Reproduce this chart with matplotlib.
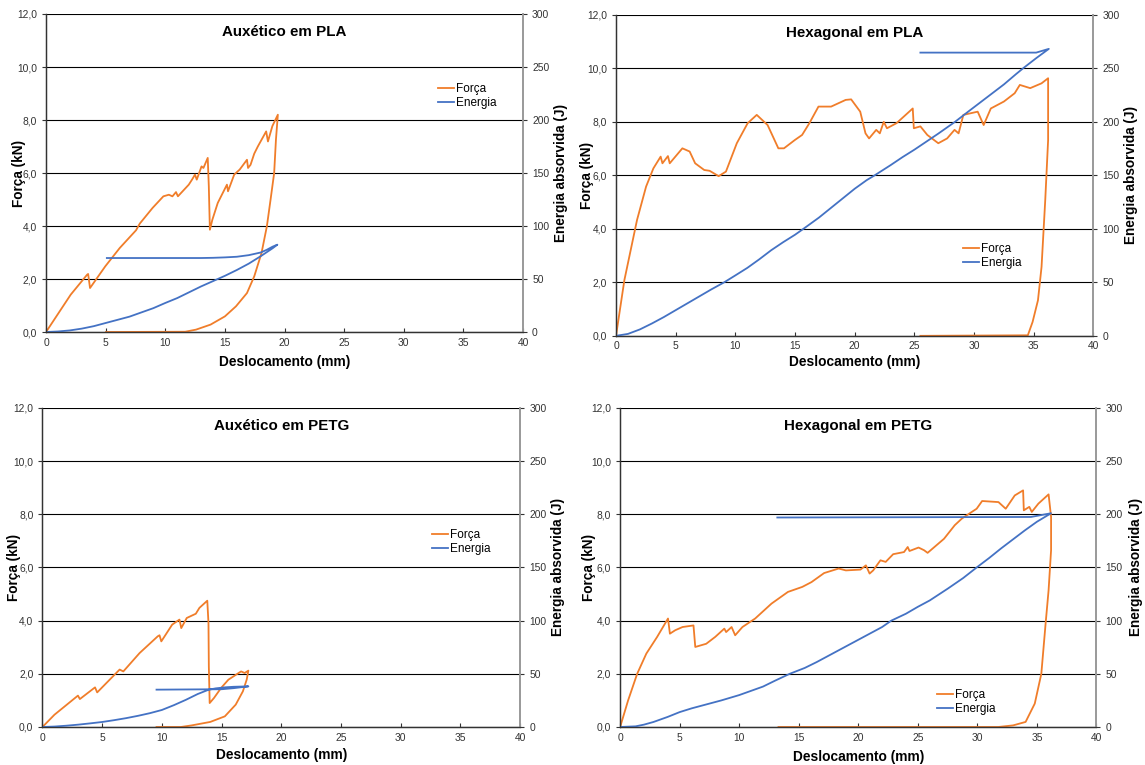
import matplotlib
matplotlib.use("Agg")
import matplotlib.pyplot as plt
from matplotlib.ticker import FuncFormatter

# ---------------- data ----------------
titles = ["Auxético em PLA", "Hexagonal em PLA", "Auxético em PETG", "Hexagonal em PETG"]
series_labels = ["Força", "Energia"]
x_ticks = [0, 5, 10, 15, 20, 25, 30, 35, 40]
force_ticks = [0, 2, 4, 6, 8, 10, 12]
energy_ticks = [0, 50, 100, 150, 200, 250, 300]

# Auxético em PLA
aux_pla_fx = [0, 2.07, 3.44, 3.53, 3.69, 4.97, 6.18, 7.55, 7.86, 8.93, 9.84, 10.3, 10.6, 10.9, 11.06,
              11.97, 12.27, 12.49, 12.64, 13.04, 13.2, 13.56, 13.65, 13.74, 13.95, 14.4, 15.17, 15.26,
              15.78, 16.24, 16.85, 16.94, 17.15, 17.46, 17.76, 18.46, 18.61, 18.98, 19.44,
              19.28, 19.13, 18.83, 18.52, 18.07, 17.46, 16.85, 15.93, 15.0, 13.8, 12.58, 11.67, 5.03]
aux_pla_fy = [0, 1.41, 2.16, 2.19, 1.66, 2.48, 3.17, 3.84, 4.09, 4.68, 5.12, 5.18, 5.12, 5.28, 5.12,
              5.56, 5.77, 5.94, 5.75, 6.25, 6.19, 6.57, 5.50, 3.86, 4.24, 4.87, 5.56, 5.31,
              5.94, 6.13, 6.5, 6.19, 6.31, 6.73, 7.0, 7.57, 7.19, 7.77, 8.2,
              7.26, 6.0, 5.0, 3.99, 2.98, 2.1, 1.47, 0.97, 0.59, 0.28, 0.09, 0.01, 0.0]
aux_pla_ex = [0, 1, 2, 3, 4, 5, 6, 7, 8, 9, 10, 11, 12, 13, 14, 15, 16, 17, 18, 19, 19.4,
              19.0, 18.5, 18.0, 17.0, 16.0, 15.0, 14.0, 13.0, 5.1]
aux_pla_ey = [0, 0.5, 1.5, 3.2, 5.5, 8.5, 11.5, 14.5, 18.5, 22.5, 27.4, 32, 37.5, 43, 48, 53, 58.5,
              64.5, 71.5, 79, 82.4,
              80.5, 77.5, 75, 72.5, 71, 70.4, 70, 69.8, 69.8]

# Hexagonal em PLA
hex_pla_fx = [0, 0.7, 1.76, 2.52, 3.13, 3.74, 3.89, 4.35, 4.5, 5.56, 6.17, 6.63, 7.39, 7.84, 8.6, 9.21,
              10.12, 11.03, 11.79, 12.7, 13.6, 14.07, 14.98, 15.59, 16.2, 16.96, 18.02, 19.24, 19.7,
              20.46, 20.9, 21.2, 21.8, 22.1, 22.43, 22.7, 23.5, 24.86, 24.95, 25.5, 26.08, 27.0, 27.74,
              28.36, 28.7, 29.1, 29.7, 30.3, 30.8, 31.4, 32.5, 33.4, 33.83, 34.7, 35.65, 36.2,
              36.2, 35.96, 35.65, 35.35, 34.9, 34.5, 25.5]
hex_pla_fy = [0, 2.08, 4.33, 5.58, 6.26, 6.7, 6.45, 6.72, 6.45, 7.01, 6.89, 6.45, 6.2, 6.17, 5.97, 6.14,
              7.2, 7.95, 8.26, 7.88, 7.01, 7.01, 7.32, 7.51, 7.95, 8.57, 8.57, 8.82, 8.84,
              8.38, 7.57, 7.38, 7.7, 7.57, 8.0, 7.76, 7.95, 8.5, 7.76, 7.83, 7.51, 7.2, 7.38,
              7.7, 7.57, 8.26, 8.32, 8.38, 7.88, 8.5, 8.76, 9.07, 9.38, 9.26, 9.44, 9.63,
              7.32, 5.08, 2.58, 1.33, 0.52, 0.02, 0.0]
hex_pla_ex = [0, 1, 2, 3, 4, 5, 6, 7, 8, 9.06, 10, 11, 12, 13, 14, 15, 15.7, 17, 18, 19, 20, 21, 21.67,
              23, 24, 25, 26, 27, 28.4, 29.5, 30.5, 31.5, 32.5, 33.5, 34.1, 35.2, 36.26,
              35.2, 25.5]
hex_pla_ey = [0, 1.8, 6, 11.5, 17.5, 24, 30.5, 37, 43.5, 50, 56.5, 63.5, 71.5, 80, 87.5, 94.5, 100,
              110.5, 119.5, 128.5, 137.5, 145.5, 150, 159.5, 167, 174, 181.5, 189, 200, 209.5, 218,
              226.5, 235, 244.5, 250, 259.5, 268.2,
              264.7, 264.7]

# Auxético em PETG
aux_petg_fx = [0, 1.0, 2.97, 3.13, 4.4, 4.58, 6.46, 6.77, 8.13, 9.65, 9.8, 9.95, 10.86, 11.47, 11.62,
               12.08, 12.84, 13.14, 13.8, 13.9, 13.93, 14.0, 14.36, 14.96, 15.57, 16.63, 16.93, 17.24,
               17.1, 16.78, 16.18, 15.27, 14.05, 12.5, 11.6, 9.55]
aux_petg_fy = [0, 0.46, 1.18, 1.05, 1.49, 1.3, 2.16, 2.09, 2.78, 3.41, 3.45, 3.22, 3.85, 4.04, 3.72,
               4.1, 4.26, 4.48, 4.75, 3.91, 2.28, 0.9, 1.09, 1.47, 1.78, 2.09, 2.03, 2.12,
               1.78, 1.34, 0.84, 0.4, 0.19, 0.06, 0.0, 0.0]
aux_petg_ex = [0, 1, 2, 3, 4, 5, 6, 7, 8, 9, 10, 11, 12, 13, 13.9, 14.5, 15.3, 16, 17.24,
               16.0, 15.0, 9.55]
aux_petg_ey = [0, 0.4, 1.2, 2.2, 3.4, 4.7, 6.4, 8.3, 10.5, 13, 16, 20.5, 25.5, 31, 35, 36.3, 37.3,
               37.8, 38.2,
               36.5, 35.5, 35.1]

# Hexagonal em PETG
hex_petg_fx = [0, 0.67, 1.43, 2.2, 3.11, 4.02, 4.18, 4.63, 5.24, 6.16, 6.31, 7.23, 7.99, 8.75, 8.9,
               9.36, 9.66, 10.27, 11.34, 12.71, 14.09, 15.3, 16.07, 17.13, 18.35, 18.96, 20.18, 20.64,
               20.95, 21.25, 21.86, 22.3, 22.93, 23.84, 24.15, 24.3, 25.06, 25.52, 25.82, 27.2, 28.1,
               28.7, 29.33, 29.94, 30.4, 31.77, 32.38, 33.14, 33.84, 33.9, 34.36, 34.57, 35.12, 35.98,
               36.19, 36.19, 35.98, 35.73, 35.37, 34.82, 34.05, 33.0, 31.77, 13.3]
hex_petg_fy = [0, 1.0, 2.0, 2.76, 3.39, 4.08, 3.51, 3.64, 3.76, 3.82, 3.01, 3.13, 3.39, 3.7, 3.57,
               3.76, 3.45, 3.76, 4.08, 4.64, 5.08, 5.27, 5.45, 5.79, 5.96, 5.89, 5.92, 6.08,
               5.77, 5.89, 6.27, 6.21, 6.5, 6.58, 6.77, 6.62, 6.75, 6.65, 6.55, 7.08, 7.59,
               7.84, 8.03, 8.21, 8.5, 8.46, 8.21, 8.71, 8.9, 8.15, 8.28, 8.09, 8.4, 8.75,
               7.9, 6.65, 5.14, 3.89, 2.0, 0.88, 0.19, 0.06, 0.0, 0.0]
hex_petg_ex = [0, 1.3, 2, 2.8, 4, 5, 6, 7, 8.5, 10, 11, 12, 13, 14.24, 15.5, 16.5, 18, 19, 20, 21, 22,
               22.77, 24, 25, 26, 27.5, 28.8, 29.94, 31, 32, 33, 34, 35, 36.19,
               34.5, 13.2]
hex_petg_ey = [0, 0.6, 2.2, 4.7, 9.5, 14, 17.5, 20.5, 25, 30, 34, 38, 43.5, 50, 55.5, 61, 70, 76, 82,
               88, 94, 100, 106.5, 113, 119, 130, 140, 150, 159, 168, 176.5, 185, 193, 201,
               197.5, 197]

panels = [
    (titles[0], aux_pla_fx, aux_pla_fy, aux_pla_ex, aux_pla_ey),
    (titles[1], hex_pla_fx, hex_pla_fy, hex_pla_ex, hex_pla_ey),
    (titles[2], aux_petg_fx, aux_petg_fy, aux_petg_ex, aux_petg_ey),
    (titles[3], hex_petg_fx, hex_petg_fy, hex_petg_ex, hex_petg_ey),
]

# ---------------- layout ----------------
positions = [
    [0.0402, 0.566, 0.4166, 0.4157],
    [0.5380, 0.561, 0.4170, 0.4196],
    [0.0371, 0.0497, 0.4172, 0.417],
    [0.5416, 0.0497, 0.4160, 0.417],
]
legend_anchor = [(0.822, 0.783), (0.727, 0.29), (0.815, 0.621), (0.665, 0.119)]
ylabel_left_x = [-0.042, -0.046, -0.045, -0.050]
ylabel_right_x = [1.064, 1.064, 1.065, 1.069]
xlabel_y = [-0.072, -0.059, -0.066, -0.072]

ORANGE = "#F07D2A"
BLUE = "#4472C4"
plt.rcParams["font.family"] = ["Liberation Sans", "DejaVu Sans"]

fig = plt.figure(figsize=(11.45, 7.65), dpi=100)
fmt_force = FuncFormatter(lambda v, p: f"{v:.1f}".replace(".", ","))

for i, ((title, fx, fy, ex, ey), pos, la) in enumerate(zip(panels, positions, legend_anchor)):
    ax = fig.add_axes(pos)
    ax2 = ax.twinx()
    ax.set_xlim(0, 40)
    ax.set_ylim(0, 12)
    ax2.set_ylim(0, 300)
    ax.set_xticks(x_ticks)
    ax.set_yticks(force_ticks)
    ax2.set_yticks(energy_ticks)
    ax.yaxis.set_major_formatter(fmt_force)
    for t in force_ticks:
        ax.axhline(t, color="black", lw=0.8, zorder=0)
    l1, = ax.plot(fx, fy, color=ORANGE, lw=1.3, label=series_labels[0])
    l2, = ax2.plot(ex, ey, color=BLUE, lw=1.3, label=series_labels[1])
    for a in (ax, ax2):
        a.spines["top"].set_visible(False)
        a.spines["left"].set_color("#333333")
        a.spines["bottom"].set_color("#333333")
        a.spines["right"].set_color("#999999")
        a.spines["left"].set_linewidth(0.9)
        a.spines["bottom"].set_linewidth(0.9)
        a.spines["right"].set_linewidth(1.2)
    ax.tick_params(axis="x", direction="in", length=3, labelsize=7.4, colors="#333333", pad=4)
    ax.tick_params(axis="y", direction="out", length=3, labelsize=7.4, colors="#333333")
    ax2.tick_params(axis="y", direction="out", length=3, labelsize=7.4, colors="#333333")
    ax.set_xlabel("Deslocamento (mm)", fontsize=9.9, fontweight="bold")
    ax.xaxis.set_label_coords(0.5, xlabel_y[i])
    ax.set_ylabel("Força (kN)", fontsize=9.8, fontweight="bold")
    ax.yaxis.set_label_coords(ylabel_left_x[i], 0.5)
    ax2.set_ylabel("Energia absorvida (J)", fontsize=9.8, fontweight="bold")
    ax2.yaxis.set_label_coords(ylabel_right_x[i], 0.5)
    ax.text(0.5, 0.943, title, transform=ax.transAxes, ha="center", va="center",
            fontsize=10.9, fontweight="bold")
    ax2.legend([l1, l2], series_labels, loc="upper left", bbox_to_anchor=la, frameon=False,
               fontsize=8.5, handlelength=1.36, handletextpad=0.15, labelspacing=0.2,
               borderpad=0, borderaxespad=0)

fig.savefig("out.png", dpi=100)
